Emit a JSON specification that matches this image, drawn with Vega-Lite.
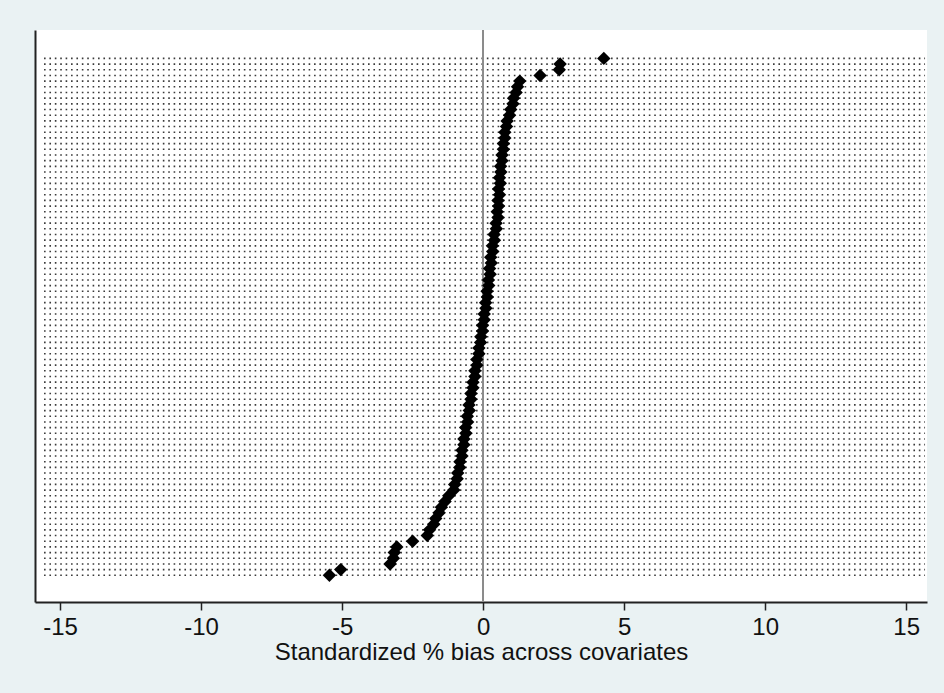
{
  "$schema": "https://vega.github.io/schema/vega-lite/v6.json",
  "autosize": {"type": "none"},
  "width": 892,
  "height": 572,
  "padding": {"left": 35, "top": 30, "right": 17, "bottom": 91},
  "background": "#EAF2F3",
  "config": {
    "view": {"fill": "white", "stroke": null},
    "font": "Liberation Sans"
  },
  "data": {
    "values": [
      {"row": 1, "bias": 4.28}, {"row": 2, "bias": 2.73}, {"row": 3, "bias": 2.70}, {"row": 4, "bias": 2.02},
      {"row": 5, "bias": 1.30}, {"row": 6, "bias": 1.22}, {"row": 7, "bias": 1.17}, {"row": 8, "bias": 1.08},
      {"row": 9, "bias": 1.06}, {"row": 10, "bias": 0.98}, {"row": 11, "bias": 0.94}, {"row": 12, "bias": 0.85},
      {"row": 13, "bias": 0.83}, {"row": 14, "bias": 0.77}, {"row": 15, "bias": 0.77}, {"row": 16, "bias": 0.72},
      {"row": 17, "bias": 0.72}, {"row": 18, "bias": 0.67}, {"row": 19, "bias": 0.67}, {"row": 20, "bias": 0.62},
      {"row": 21, "bias": 0.63}, {"row": 22, "bias": 0.58}, {"row": 23, "bias": 0.61}, {"row": 24, "bias": 0.55},
      {"row": 25, "bias": 0.58}, {"row": 26, "bias": 0.53}, {"row": 27, "bias": 0.55}, {"row": 28, "bias": 0.50},
      {"row": 29, "bias": 0.53}, {"row": 30, "bias": 0.46}, {"row": 31, "bias": 0.47}, {"row": 32, "bias": 0.39},
      {"row": 33, "bias": 0.40}, {"row": 34, "bias": 0.33}, {"row": 35, "bias": 0.34}, {"row": 36, "bias": 0.27},
      {"row": 37, "bias": 0.29}, {"row": 38, "bias": 0.23}, {"row": 39, "bias": 0.25}, {"row": 40, "bias": 0.19},
      {"row": 41, "bias": 0.20}, {"row": 42, "bias": 0.14}, {"row": 43, "bias": 0.15}, {"row": 44, "bias": 0.09},
      {"row": 45, "bias": 0.10}, {"row": 46, "bias": 0.04}, {"row": 47, "bias": 0.04}, {"row": 48, "bias": -0.02},
      {"row": 49, "bias": -0.02}, {"row": 50, "bias": -0.08}, {"row": 51, "bias": -0.09}, {"row": 52, "bias": -0.15},
      {"row": 53, "bias": -0.15}, {"row": 54, "bias": -0.22}, {"row": 55, "bias": -0.22}, {"row": 56, "bias": -0.29},
      {"row": 57, "bias": -0.29}, {"row": 58, "bias": -0.36}, {"row": 59, "bias": -0.36}, {"row": 60, "bias": -0.43},
      {"row": 61, "bias": -0.43}, {"row": 62, "bias": -0.50}, {"row": 63, "bias": -0.49}, {"row": 64, "bias": -0.56},
      {"row": 65, "bias": -0.55}, {"row": 66, "bias": -0.62}, {"row": 67, "bias": -0.61}, {"row": 68, "bias": -0.68},
      {"row": 69, "bias": -0.68}, {"row": 70, "bias": -0.75}, {"row": 71, "bias": -0.75}, {"row": 72, "bias": -0.82},
      {"row": 73, "bias": -0.83}, {"row": 74, "bias": -0.90}, {"row": 75, "bias": -0.92}, {"row": 76, "bias": -1.01},
      {"row": 77, "bias": -1.04}, {"row": 78, "bias": -1.22}, {"row": 79, "bias": -1.35}, {"row": 80, "bias": -1.48},
      {"row": 81, "bias": -1.56}, {"row": 82, "bias": -1.68}, {"row": 83, "bias": -1.75}, {"row": 84, "bias": -1.90},
      {"row": 85, "bias": -1.98}, {"row": 86, "bias": -2.50}, {"row": 87, "bias": -3.06}, {"row": 88, "bias": -3.15},
      {"row": 89, "bias": -3.18}, {"row": 90, "bias": -3.30}, {"row": 91, "bias": -5.05}, {"row": 92, "bias": -5.45}
    ]
  },
  "encoding": {
    "y": {
      "field": "row",
      "type": "quantitative",
      "scale": {"domain": [-4, 96.7], "reverse": true, "nice": false, "zero": false},
      "axis": {"title": null, "labels": false, "ticks": false, "grid": false, "domain": true, "domainColor": "#222", "domainWidth": 2}
    }
  },
  "layer": [
    {
      "mark": {"type": "rule", "color": "#3a3a3a", "strokeWidth": 1.6, "strokeDash": [1.6, 3.8]},
      "encoding": {
        "x": {"datum": -15.57, "type": "quantitative"},
        "x2": {"datum": 15.67}
      }
    },
    {
      "mark": {"type": "rule", "color": "#8c8c8c", "strokeWidth": 1.5},
      "encoding": {
        "x": {"datum": 0, "type": "quantitative"},
        "y": null
      }
    },
    {
      "mark": {"type": "point", "shape": "diamond", "filled": true, "color": "black", "size": 180, "opacity": 1},
      "encoding": {
        "x": {
          "field": "bias",
          "type": "quantitative",
          "scale": {"domain": [-15.89, 15.74], "nice": false, "zero": false},
          "axis": {
            "title": "Standardized % bias across covariates",
            "values": [-15, -10, -5, 0, 5, 10, 15],
            "labelExpr": "'' + datum.value",
            "grid": false,
            "domainColor": "#222",
            "domainWidth": 2,
            "tickColor": "#222",
            "tickWidth": 1.5,
            "tickSize": 8,
            "labelFontSize": 24,
            "labelColor": "#111",
            "labelPadding": 5,
            "titleFontSize": 24,
            "titleFontWeight": "normal",
            "titleColor": "#111",
            "titlePadding": 1
          }
        }
      }
    }
  ]
}
